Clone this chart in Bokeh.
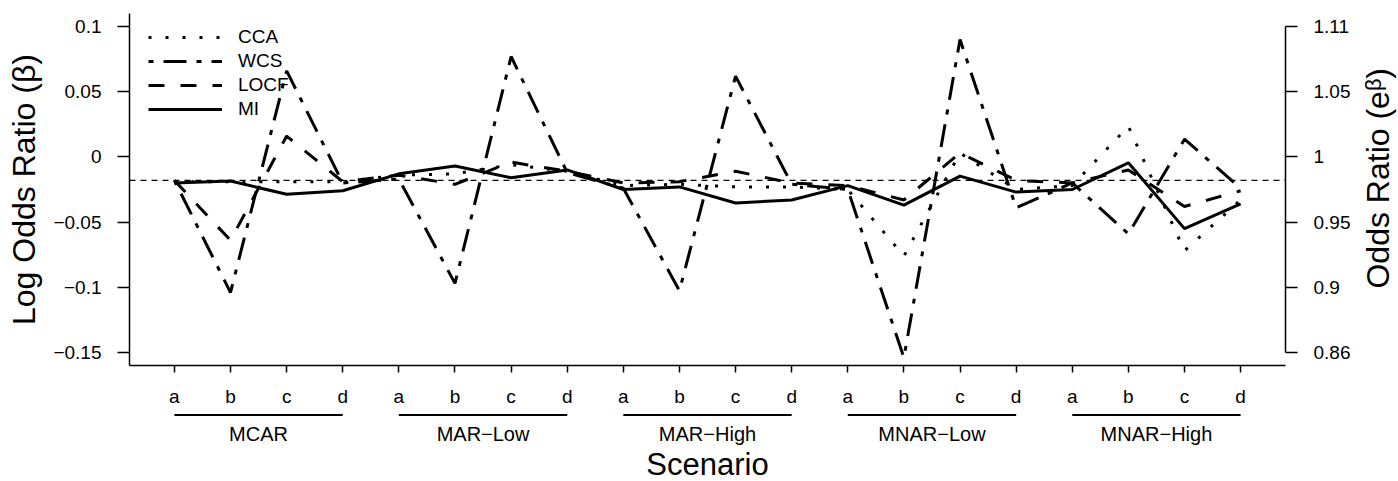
import math
from bokeh.plotting import figure
from bokeh.layouts import column, row
from bokeh.models import (Range1d, LinearAxis, FixedTicker, Legend, LegendItem, Span,
                          ColumnDataSource)
from bokeh.core.properties import value
from bokeh.embed import file_html
from bokeh.resources import INLINE

# ---------------- data ----------------
scenario_letters = ["a", "b", "c", "d"]
mechanisms = ["MCAR", "MAR\u2212Low", "MAR\u2212High", "MNAR\u2212Low", "MNAR\u2212High"]
methods = ["CCA", "WCS", "LOCF", "MI"]

cca = [-0.019, -0.019, -0.019, -0.019,
       -0.014, -0.013, -0.006, -0.011,
       -0.022, -0.021, -0.023, -0.023,
       -0.025, -0.076, 0.003, -0.025,
       -0.022, 0.0235, -0.072, -0.033]
wcs = [-0.018, -0.104, 0.066, -0.020,
       -0.017, -0.097, 0.077, -0.012,
       -0.024, -0.1026, 0.062, -0.021,
       -0.025, -0.154, 0.090, -0.039,
       -0.020, -0.059, 0.0136, -0.024]
locf = [-0.018, -0.064, 0.016, -0.019,
        -0.014, -0.021, -0.004, -0.011,
        -0.020, -0.019, -0.011, -0.020,
        -0.022, -0.033, 0.003, -0.018,
        -0.020, -0.010, -0.038, -0.026]
mi = [-0.020, -0.0185, -0.0287, -0.026,
      -0.013, -0.007, -0.016, -0.010,
      -0.025, -0.023, -0.0354, -0.033,
      -0.022, -0.037, -0.0147, -0.027,
      -0.025, -0.0045, -0.055, -0.036]
true_beta = -0.018

log_or_ticks = [-0.15, -0.1, -0.05, 0, 0.05, 0.1]
log_or_labels = ["\u22120.15", "\u22120.1", "\u22120.05", "0", "0.05", "0.1"]
or_labels = ["0.86", "0.9", "0.95", "1", "1.05", "1.11"]

# ---------------- layout ----------------
W, H = 1398, 481
FL, FR, FT, FB = 129, 1285, 13, 365
MAIN_H = 410
RW = 40                      # strip on the right holding the odds-ratio title
X0, X1 = 0.2, 20.8
Y0, Y1 = -0.16, 0.11
FONT = "Liberation Sans"
TICK_FS = "19px"
TITLE_FS = "32px"

n_letters = len(scenario_letters)
xs = list(range(1, len(mechanisms) * n_letters + 1))

p = figure(width=W - RW, height=MAIN_H, x_range=Range1d(X0, X1), y_range=Range1d(Y0, Y1),
           output_backend="svg", toolbar_location=None,
           min_border_left=FL, min_border_right=W - FR - RW,
           min_border_top=FT, min_border_bottom=MAIN_H - FB)
p.outline_line_color = None
p.grid.visible = False
p.background_fill_color = "white"
p.border_fill_color = "white"


def style_axis(ax, tick_out):
    ax.major_tick_out = tick_out
    ax.major_tick_in = 0
    ax.minor_tick_line_color = None
    ax.axis_line_width = 1.5
    ax.major_tick_line_width = 1.5
    ax.major_label_text_font = FONT
    ax.major_label_text_font_size = TICK_FS
    ax.major_label_text_color = "black"
    ax.axis_label_text_font = FONT
    ax.axis_label_text_font_size = TITLE_FS
    ax.axis_label_text_font_style = "normal"
    ax.axis_label_text_color = "black"


# bottom axis: scenario letters
xa = p.xaxis[0]
xa.ticker = FixedTicker(ticks=xs)
xa.major_label_overrides = {x: scenario_letters[(x - 1) % n_letters] for x in xs}
style_axis(xa, 7)
xa.major_label_standoff = 13

# left axis: log odds ratio
ya = p.yaxis[0]
ya.ticker = FixedTicker(ticks=log_or_ticks)
ya.major_label_overrides = dict(zip(log_or_ticks, log_or_labels))
style_axis(ya, 12)
ya.major_label_standoff = 16
ya.major_label_orientation = "horizontal"
ya.axis_label = "Log Odds Ratio (\u03b2)"
ya.axis_label_standoff = 8

# right axis: odds ratio scale
ra = LinearAxis(ticker=FixedTicker(ticks=log_or_ticks),
                major_label_overrides=dict(zip(log_or_ticks, or_labels)),
                bounds=(log_or_ticks[0], log_or_ticks[-1]))
style_axis(ra, 12)
ra.major_label_standoff = 16
ra.major_label_orientation = "horizontal"
p.add_layout(ra, "right")

# reference line at the true value
p.add_layout(Span(location=true_beta, dimension="width", line_color="black",
                  line_width=1.3, line_dash="6 5"))

# series
dashes = {"CCA": "3 14", "WCS": "5 10 23 10", "LOCF": "16 16", "MI": "solid"}
series = {"CCA": cca, "WCS": wcs, "LOCF": locf, "MI": mi}
renderers = {}
for m in methods:
    src = ColumnDataSource(dict(x=xs, y=series[m]))
    renderers[m] = p.line("x", "y", source=src, line_color="black", line_width=3,
                          line_dash=dashes[m])

legend = Legend(items=[LegendItem(label=m, renderers=[renderers[m]]) for m in methods],
                location=(148 - FL, 245), padding=0, margin=0,
                glyph_width=74, glyph_height=20, label_height=20, spacing=2,
                label_standoff=16, label_text_font=FONT, label_text_font_size=TICK_FS,
                label_text_color="black",
                border_line_color=None, background_fill_alpha=0)
p.add_layout(legend)

# ---------------- right strip: odds-ratio axis title ----------------
r = figure(width=RW, height=MAIN_H, x_range=Range1d(0, RW), y_range=Range1d(MAIN_H, 0),
           output_backend="svg", toolbar_location=None,
           x_axis_location=None, y_axis_location=None,
           min_border_left=0, min_border_right=0, min_border_top=0, min_border_bottom=0)
r.outline_line_color = None
r.grid.visible = False
r.background_fill_color = "white"
r.border_fill_color = "white"
r.text(x=[1377 - (W - RW)], y=[192], text=["Odds Ratio (e\u1d5d)"], angle=math.pi / 2,
       text_font=value(FONT), text_font_size=value(TITLE_FS), text_align="center",
       text_baseline="middle", text_color="black")

# ---------------- lower strip: group bars, group names, x title ----------------
LOW_H = H - MAIN_H
q = figure(width=W, height=LOW_H, x_range=p.x_range, y_range=Range1d(LOW_H, 0),
           output_backend="svg", toolbar_location=None,
           x_axis_location=None, y_axis_location=None,
           min_border_left=FL, min_border_right=W - FR,
           min_border_top=0, min_border_bottom=0)
q.outline_line_color = None
q.grid.visible = False
q.background_fill_color = "white"
q.border_fill_color = "white"

ng = len(mechanisms)
bars = ColumnDataSource(dict(
    x0=[g * n_letters + 1 for g in range(ng)],
    x1=[g * n_letters + n_letters for g in range(ng)],
    y=[414.5 - MAIN_H] * ng))
q.segment(x0="x0", y0="y", x1="x1", y1="y", source=bars, line_color="black",
          line_width=1.8)

names = ColumnDataSource(dict(
    x=[g * n_letters + (n_letters + 1) / 2 for g in range(ng)],
    y=[433 - MAIN_H] * ng, text=mechanisms))
q.text(x="x", y="y", text="text", source=names, text_font=value(FONT),
       text_font_size=value("20px"), text_align="center",
       text_baseline="middle", text_color="black")

q.text(x=[(X0 + X1) / 2], y=[463.5 - MAIN_H], text=["Scenario"], text_font=value(FONT),
       text_font_size=value("31px"), text_align="center",
       text_baseline="middle", text_color="black")

layout = column(row(p, r, spacing=0), q, spacing=0)
open("out.html", "w").write(file_html(layout, INLINE))
